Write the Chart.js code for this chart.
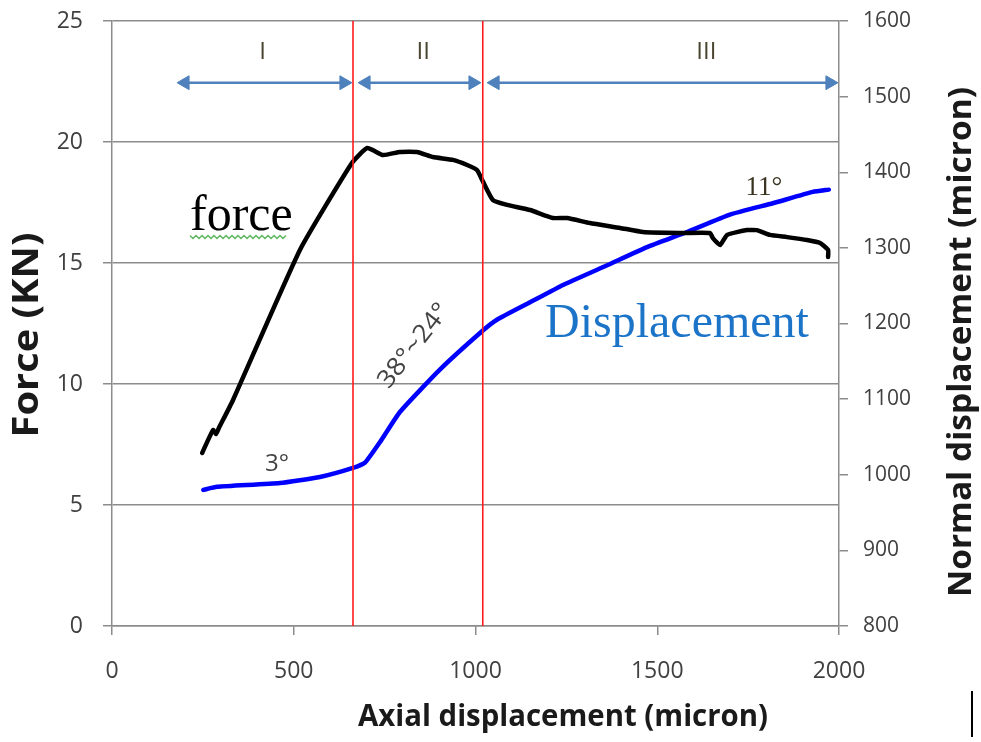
<!DOCTYPE html>
<html>
<head>
<meta charset="utf-8">
<script src="https://cdn.jsdelivr.net/npm/chart.js@4.4.1/dist/chart.umd.min.js"></script>
<style>
  html, body { margin: 0; padding: 0; background: #ffffff; }
  #wrap { width: 981px; height: 742px; }
</style>
</head>
<body>
<div id="wrap"><canvas id="pushChart" width="981" height="742"></canvas></div>
<script>
// --- force curve (left axis, KN) ---
const axialForce = [248, 278, 286, 294, 333, 517, 660, 702, 746, 792, 839, 883, 938, 977, 1004,
    1021, 1048, 1087, 1150, 1213, 1252, 1315, 1398, 1461, 1563, 1645, 1653, 1673, 1692, 1747,
    1774, 1810, 1857, 1912, 1948, 1970, 1970];
const forceKN = [7.15, 8.10, 7.93, 8.18, 9.34, 15.54, 19.13, 19.75, 19.46, 19.59, 19.59, 19.38, 19.26, 19.05, 18.84,
    18.35, 17.60, 17.40, 17.19, 16.86, 16.86, 16.65, 16.45, 16.28, 16.24, 16.24, 16.03, 15.74, 16.16, 16.36,
    16.36, 16.16, 16.07, 15.95, 15.83, 15.54, 15.25];

// --- normal displacement curve (right axis, micron) ---
const axialNormal = [251, 289, 462, 572, 663, 696, 737, 792, 902, 1021, 1059, 1150, 1241, 1362, 1472,
    1582, 1700, 1818, 1928, 1972];
const normalMicron = [980, 984, 989, 997, 1009, 1016, 1043, 1083, 1139, 1191, 1205, 1228, 1251, 1277, 1301,
    1321, 1344, 1359, 1374, 1377];

// --- stage borders and arrows ---
const stageBorders = [663, 1020];
const stageNames = ['I', 'II', 'III'];
const stageLabelX = [414, 856, 1635];
const stageLabelLevel = 23.7;
const arrowStart = [201, 699, 1054];
const arrowEnd = [638, 993, 1975];
const arrowLevel = 22.45;

const xTicks = [0, 500, 1000, 1500, 2000];

const tickFont = { family: "'Open Sans', sans-serif", size: 23 };
const tickColor = '#404040';
const axisGray = '#8c8c8c';

function pairs(xs, ys) {
    return xs.map((x, i) => ({ x: x, y: ys[i] }));
}
const plain = v => String(v);

// fixed axis boxes so the plot area lands where it should
function fixWidth(w) {
    return s => { s.width = w; s.paddingTop = 0; s.paddingBottom = 0; };
}

const datasets = [];

// red stage borders, full height
stageBorders.forEach(b => {
    datasets.push({
        data: [{ x: b, y: 0 }, { x: b, y: 25 }],
        yAxisID: 'y', borderColor: '#ff1a1a', borderWidth: 1.6, pointRadius: 0
    });
});

// double-headed arrows for each stage
arrowStart.forEach((s, i) => {
    datasets.push({
        data: [{ x: s, y: arrowLevel }, { x: arrowEnd[i], y: arrowLevel }],
        yAxisID: 'y', borderColor: '#4f81bd', borderWidth: 2.5,
        pointStyle: 'triangle', pointRadius: 8, pointRotation: [270, 90],
        pointBackgroundColor: '#4f81bd', pointBorderColor: '#4f81bd', pointBorderWidth: 1
    });
});

datasets.push({
    label: 'force', data: pairs(axialForce, forceKN), yAxisID: 'y',
    borderColor: '#000000', borderWidth: 4.5, pointRadius: 0, tension: 0.15,
    borderCapStyle: 'round', borderJoinStyle: 'round'
});
datasets.push({
    label: 'Displacement', data: pairs(axialNormal, normalMicron), yAxisID: 'y2',
    borderColor: '#0000ff', borderWidth: 4.5, pointRadius: 0, tension: 0.15,
    borderCapStyle: 'round', borderJoinStyle: 'round'
});

// free text inside the plot and the axis titles
function fitText(ctx, text, cx, cy, width, font, color, angle) {
    ctx.save();
    ctx.font = font;
    ctx.fillStyle = color;
    ctx.textAlign = 'center';
    ctx.textBaseline = 'middle';
    ctx.translate(cx, cy);
    ctx.rotate(angle * Math.PI / 180);
    const w = ctx.measureText(text).width;
    ctx.scale(width / w, 1);
    ctx.fillText(text, 0, 0);
    ctx.restore();
}

const notes = {
    id: 'notes',
    afterDatasetsDraw(chart) {
        const ctx = chart.ctx;
        const xs = chart.scales.x, ys = chart.scales.y;

        ctx.save();
        ctx.font = "24px 'Open Sans', sans-serif";
        ctx.fillStyle = '#4a4530';
        ctx.textAlign = 'center';
        ctx.textBaseline = 'middle';
        stageNames.forEach((n, i) => {
            ctx.fillText(n, xs.getPixelForValue(stageLabelX[i]), ys.getPixelForValue(stageLabelLevel));
        });

        // curve captions
        ctx.textAlign = 'left';
        ctx.textBaseline = 'alphabetic';
        ctx.font = "50px 'Liberation Serif', 'Times New Roman', serif";
        ctx.fillStyle = '#000000';
        ctx.fillText('force', 190, 230);
        ctx.font = "48px 'Liberation Serif', 'Times New Roman', serif";
        ctx.fillStyle = '#1c74c9';
        ctx.fillText('Displacement', 545, 337);

        // wavy underline under "force"
        ctx.strokeStyle = '#62b862';
        ctx.lineWidth = 1.5;
        ctx.beginPath();
        for (let x = 190, k = 0; x <= 288; x += 3, k++) {
            const y = 237 + (k % 2 ? 1.5 : -1.5);
            if (k === 0) ctx.moveTo(x, y); else ctx.lineTo(x, y);
        }
        ctx.stroke();

        // slope angles
        ctx.font = "24px 'Open Sans', sans-serif";
        ctx.fillStyle = '#444444';
        ctx.textAlign = 'center';
        ctx.textBaseline = 'middle';
        ctx.fillText('3°', 277, 464);
        ctx.font = "27px 'Liberation Serif', 'Times New Roman', serif";
        ctx.fillStyle = '#3a3520';
        ctx.fillText('11°', 764, 188);
        ctx.restore();
        fitText(ctx, '38°~24°', 414, 346, 100, "25px 'Open Sans', sans-serif", '#444444', -52);

        // stray caret mark at the lower right
        ctx.save();
        ctx.strokeStyle = '#000000';
        ctx.lineWidth = 2;
        ctx.beginPath();
        ctx.moveTo(972, 691);
        ctx.lineTo(972, 737);
        ctx.stroke();
        ctx.restore();
    },
    afterDraw(chart) {
        const ctx = chart.ctx;
        fitText(ctx, 'Force (KN)', 28, 335, 205, "bold 36px 'Open Sans', sans-serif", '#1a1a1a', -90);
        fitText(ctx, 'Normal displacement (micron)', 962, 342, 510, "bold 32px 'Open Sans', sans-serif", '#1a1a1a', -90);
        fitText(ctx, 'Axial displacement (micron)', 563, 717, 410, "bold 30px 'Open Sans', sans-serif", '#1a1a1a', 0);
    }
};

const ctx = document.getElementById('pushChart').getContext('2d');
new Chart(ctx, {
    type: 'line',
    data: { datasets: datasets },
    plugins: [notes],
    options: {
        responsive: false,
        animation: false,
        events: [],
        layout: { padding: { top: 21, left: 0, right: 0, bottom: 0 } },
        plugins: { legend: { display: false }, tooltip: { enabled: false } },
        scales: {
            x: {
                type: 'linear', min: 0, max: 2000,
                afterBuildTicks: s => { s.ticks = xTicks.map(v => ({ value: v })); },
                afterFit: s => { s.height = 116; s.paddingLeft = 0; s.paddingRight = 0; },
                grid: { drawOnChartArea: false, drawTicks: true, tickLength: 9, color: axisGray, lineWidth: 1.5 },
                border: { display: true, color: axisGray, width: 1.5 },
                ticks: { font: tickFont, color: tickColor, padding: 23, maxRotation: 0, callback: plain }
            },
            y: {
                position: 'left', min: 0, max: 25,
                afterFit: fixWidth(112),
                grid: { drawOnChartArea: true, drawTicks: true, tickLength: 9, color: axisGray, lineWidth: 1.5 },
                border: { display: true, color: axisGray, width: 1.5 },
                ticks: { stepSize: 5, font: tickFont, color: tickColor, padding: 20, callback: plain }
            },
            y2: {
                position: 'right', min: 800, max: 1600,
                afterFit: fixWidth(142),
                grid: { drawOnChartArea: false, drawTicks: true, tickLength: 9, color: axisGray, lineWidth: 1.5 },
                border: { display: true, color: axisGray, width: 1.5 },
                ticks: { stepSize: 100, font: { family: "'Open Sans', sans-serif", size: 21 }, color: tickColor, padding: 15, callback: plain }
            }
        }
    }
});
</script>
</body>
</html>
